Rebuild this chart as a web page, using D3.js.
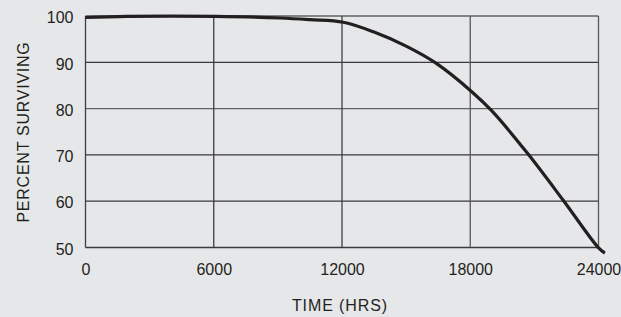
<!DOCTYPE html>
<html><head><meta charset="utf-8">
<script src="https://cdn.jsdelivr.net/npm/d3@7"></script>
<style>
html,body{margin:0;padding:0;background:#e6e7e9;}
svg{display:block;font-family:"Liberation Sans",Arial,sans-serif;}
</style></head>
<body><svg id="chart" width="621" height="317"></svg>
<script>
const timeHrs = [0, 1940, 6090, 9100, 10500, 12060, 13500, 15000, 16430, 18070, 19000, 20670, 22340, 23980, 24300];
const percentSurviving = [99.68, 99.9, 99.9, 99.57, 99.2, 98.64, 96.52, 93.48, 89.7, 83.65, 79.55, 70.4, 60.26, 50.04, 48.8];
const xTicks = [0, 6000, 12000, 18000, 24000];
const yTicks = [50, 60, 70, 80, 90, 100];
const xLabel = "TIME (HRS)";
const yLabel = "PERCENT SURVIVING";

const svg = d3.select("#chart");
const L = 85.5, R = 598.5, T = 16, B = 247.5;
const x = d3.scaleLinear().domain([0, 24000]).range([L, R]);
const y = d3.scaleLinear().domain([50, 100]).range([B, T]);

svg.append("rect").attr("width",621).attr("height",317).attr("fill","#e6e7e9");

const g = svg.append("g");
g.selectAll("line.h").data(yTicks).join("line")
  .attr("x1", L).attr("x2", R)
  .attr("y1", d => y(d)).attr("y2", d => y(d))
  .attr("stroke", d => (d === 100 || d === 80) ? "#636365" : "#3a3a3c").attr("stroke-width", 1.3);
g.selectAll("line.v").data(xTicks).join("line")
  .attr("y1", T).attr("y2", B)
  .attr("x1", d => x(d)).attr("x2", d => x(d))
  .attr("stroke", d => (d === 24000 || d === 18000) ? "#58585a" : "#3f3f41").attr("stroke-width", 1.3);

const xAxis = d3.axisBottom(x).tickValues(xTicks).tickSize(0).tickPadding(16).tickFormat(d3.format("d"));
const yAxis = d3.axisLeft(y).tickValues(yTicks).tickSize(0).tickPadding(12).tickFormat(d3.format("d"));
const gx = svg.append("g").attr("transform", `translate(0,${B})`).call(xAxis);
const gy = svg.append("g").attr("transform", `translate(${L},0)`).call(yAxis);
[gx, gy].forEach(a => {
  a.select(".domain").remove();
  a.selectAll("text").attr("fill", "#231f20").style("font-size", "16px").style("font-family", "Liberation Sans, Arial, sans-serif");
});
gy.selectAll("text").attr("dy", "0.42em");

const line = d3.line().x((d,i) => x(timeHrs[i])).y(d => y(d)).curve(d3.curveCatmullRom.alpha(0.5));
svg.append("path").datum(percentSurviving).attr("d", line)
  .attr("fill","none").attr("stroke","#231f20").attr("stroke-width",3.2).attr("stroke-linecap","butt");

svg.append("text").attr("x", 340).attr("y", 311).attr("text-anchor","middle")
  .attr("fill","#231f20").style("font-size","16px").style("letter-spacing","0.9px").text(xLabel);
svg.append("text").attr("transform","translate(28.5,132) rotate(-90)").attr("text-anchor","middle")
  .attr("fill","#231f20").style("font-size","16px").style("letter-spacing","0.75px").text(yLabel);
</script></body></html>
